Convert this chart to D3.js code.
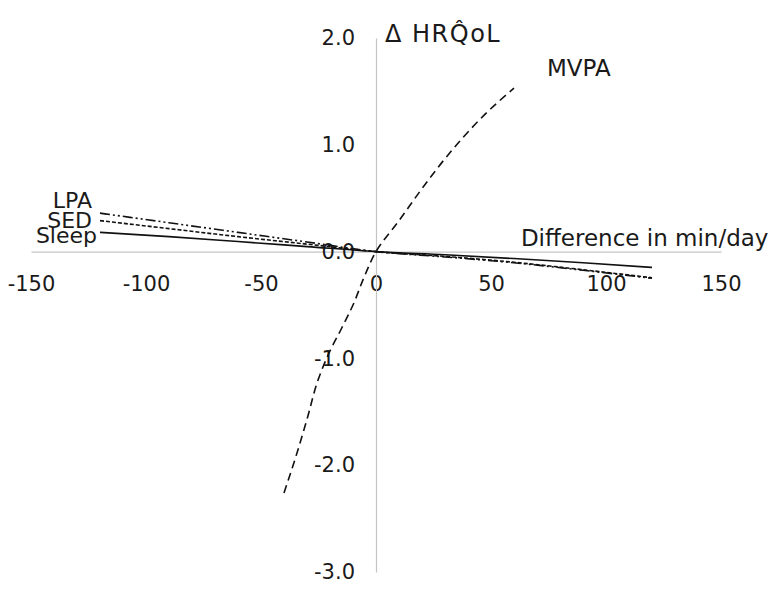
<!DOCTYPE html>
<html>
<head>
<meta charset="utf-8">
<script src="https://cdn.jsdelivr.net/npm/d3@7"></script>
<style>
body{margin:0;background:#fff;}
.lbl{font-family:"DejaVu Sans",sans-serif;fill:#1a1a1a;}
</style>
</head>
<body>
<div id="viz"></div>
<script>
// tick values
var xTicks=[-150,-100,-50,0,50,100,150];
var yTicks=[2,1,0,-1,-2,-3];

// substituted minutes / predicted change
var subMin=[-120,-90,-60,-30,0,30,60,90,120];
var sleepVals=[0.18,0.14,0.094,0.047,0,-0.03,-0.065,-0.105,-0.148];
var sedVals=[0.29,0.215,0.14,0.07,0,-0.045,-0.10,-0.17,-0.245];
var lpaVals=[0.36,0.27,0.18,0.09,0,-0.05,-0.105,-0.175,-0.25];

var mvpaMin=[-40,-35,-30,-25,-20,-15,-10,-5,0,10,20,30,40,50,60];
var mvpaVals=[-2.26,-1.93,-1.57,-1.19,-0.93,-0.72,-0.5,-0.23,0,0.29,0.59,0.87,1.12,1.34,1.53];

var seriesNames=["Sleep","SED","LPA","MVPA"];

var width=783, height=591;

var svg=d3.select("#viz")
  .append("svg")
  .attr("width",width)
  .attr("height",height);

var xScale=d3.scaleLinear().domain([-150,150]).range([31,721]);
var yScale=d3.scaleLinear().domain([-3,2]).range([572,38]);

var x0=xScale(0), y0=yScale(0);

// x axis through zero
var xAxis=d3.axisBottom(xScale)
  .tickValues(xTicks)
  .tickSize(0)
  .tickPadding(24)
  .tickFormat(function(d){return String(d);});

var gx=svg.append("g")
  .attr("transform","translate(0,"+y0+")")
  .call(xAxis);
gx.select(".domain").attr("stroke","#c4c4c4").attr("stroke-width",1.2);
gx.selectAll("text")
  .attr("class","lbl")
  .attr("font-size",21)
  .attr("font-family","DejaVu Sans");

// y axis through zero
var yAxis=d3.axisLeft(yScale)
  .tickValues(yTicks)
  .tickSize(0)
  .tickPadding(21)
  .tickFormat(function(d){return d.toFixed(1);});

var gy=svg.append("g")
  .attr("transform","translate("+x0+",0)")
  .call(yAxis);
gy.select(".domain").attr("stroke","#c4c4c4").attr("stroke-width",1.2);
gy.selectAll("text")
  .attr("class","lbl")
  .attr("font-size",21)
  .attr("font-family","DejaVu Sans");

// lines
var line=d3.line()
  .x(function(d){return xScale(d[0]);})
  .y(function(d){return yScale(d[1]);})
  .curve(d3.curveMonotoneX);

var lineY=d3.line()
  .x(function(d){return xScale(d[0]);})
  .y(function(d){return yScale(d[1]);})
  .curve(d3.curveMonotoneY);

function pairs(xs,ys){
  return xs.map(function(x,i){return [x,ys[i]];});
}

svg.append("path")
  .datum(pairs(subMin,sleepVals))
  .attr("d",line)
  .attr("fill","none")
  .attr("stroke","#111")
  .attr("stroke-width",1.6);

svg.append("path")
  .datum(pairs(subMin,sedVals))
  .attr("d",line)
  .attr("fill","none")
  .attr("stroke","#111")
  .attr("stroke-width",1.6)
  .attr("stroke-dasharray","4,2");

svg.append("path")
  .datum(pairs(subMin,lpaVals))
  .attr("d",line)
  .attr("fill","none")
  .attr("stroke","#111")
  .attr("stroke-width",1.6)
  .attr("stroke-dasharray","10,3,2,3,2,3");

svg.append("path")
  .datum(pairs(mvpaMin,mvpaVals))
  .attr("d",lineY)
  .attr("fill","none")
  .attr("stroke","#111")
  .attr("stroke-width",1.6)
  .attr("stroke-dasharray","8,5");

// series labels
svg.append("text")
  .attr("class","lbl")
  .attr("x",xScale(subMin[0])-8)
  .attr("y",yScale(lpaVals[0])-5)
  .attr("font-size",22)
  .attr("text-anchor","end")
  .text(seriesNames[2]);

svg.append("text")
  .attr("class","lbl")
  .attr("x",xScale(subMin[0])-8)
  .attr("y",yScale(sedVals[0])+7)
  .attr("font-size",22)
  .attr("text-anchor","end")
  .text(seriesNames[1]);

svg.append("text")
  .attr("class","lbl")
  .attr("x",xScale(subMin[0])-3)
  .attr("y",yScale(sleepVals[0])+11)
  .attr("font-size",22)
  .attr("text-anchor","end")
  .text(seriesNames[0]);

svg.append("text")
  .attr("class","lbl")
  .attr("x",xScale(mvpaMin[mvpaMin.length-1])+33)
  .attr("y",yScale(mvpaVals[mvpaVals.length-1])-12)
  .attr("font-size",23)
  .text(seriesNames[3]);

// axis titles
svg.append("text")
  .attr("class","lbl")
  .attr("x",x0+9)
  .attr("y",42)
  .attr("font-size",24)
  .attr("letter-spacing",1.5)
  .text("\u0394 HRQ\u0302oL");

svg.append("text")
  .attr("class","lbl")
  .attr("x",xScale(63))
  .attr("y",y0-6)
  .attr("font-size",23)
  .text("Difference in min/day");
</script>
</body>
</html>
